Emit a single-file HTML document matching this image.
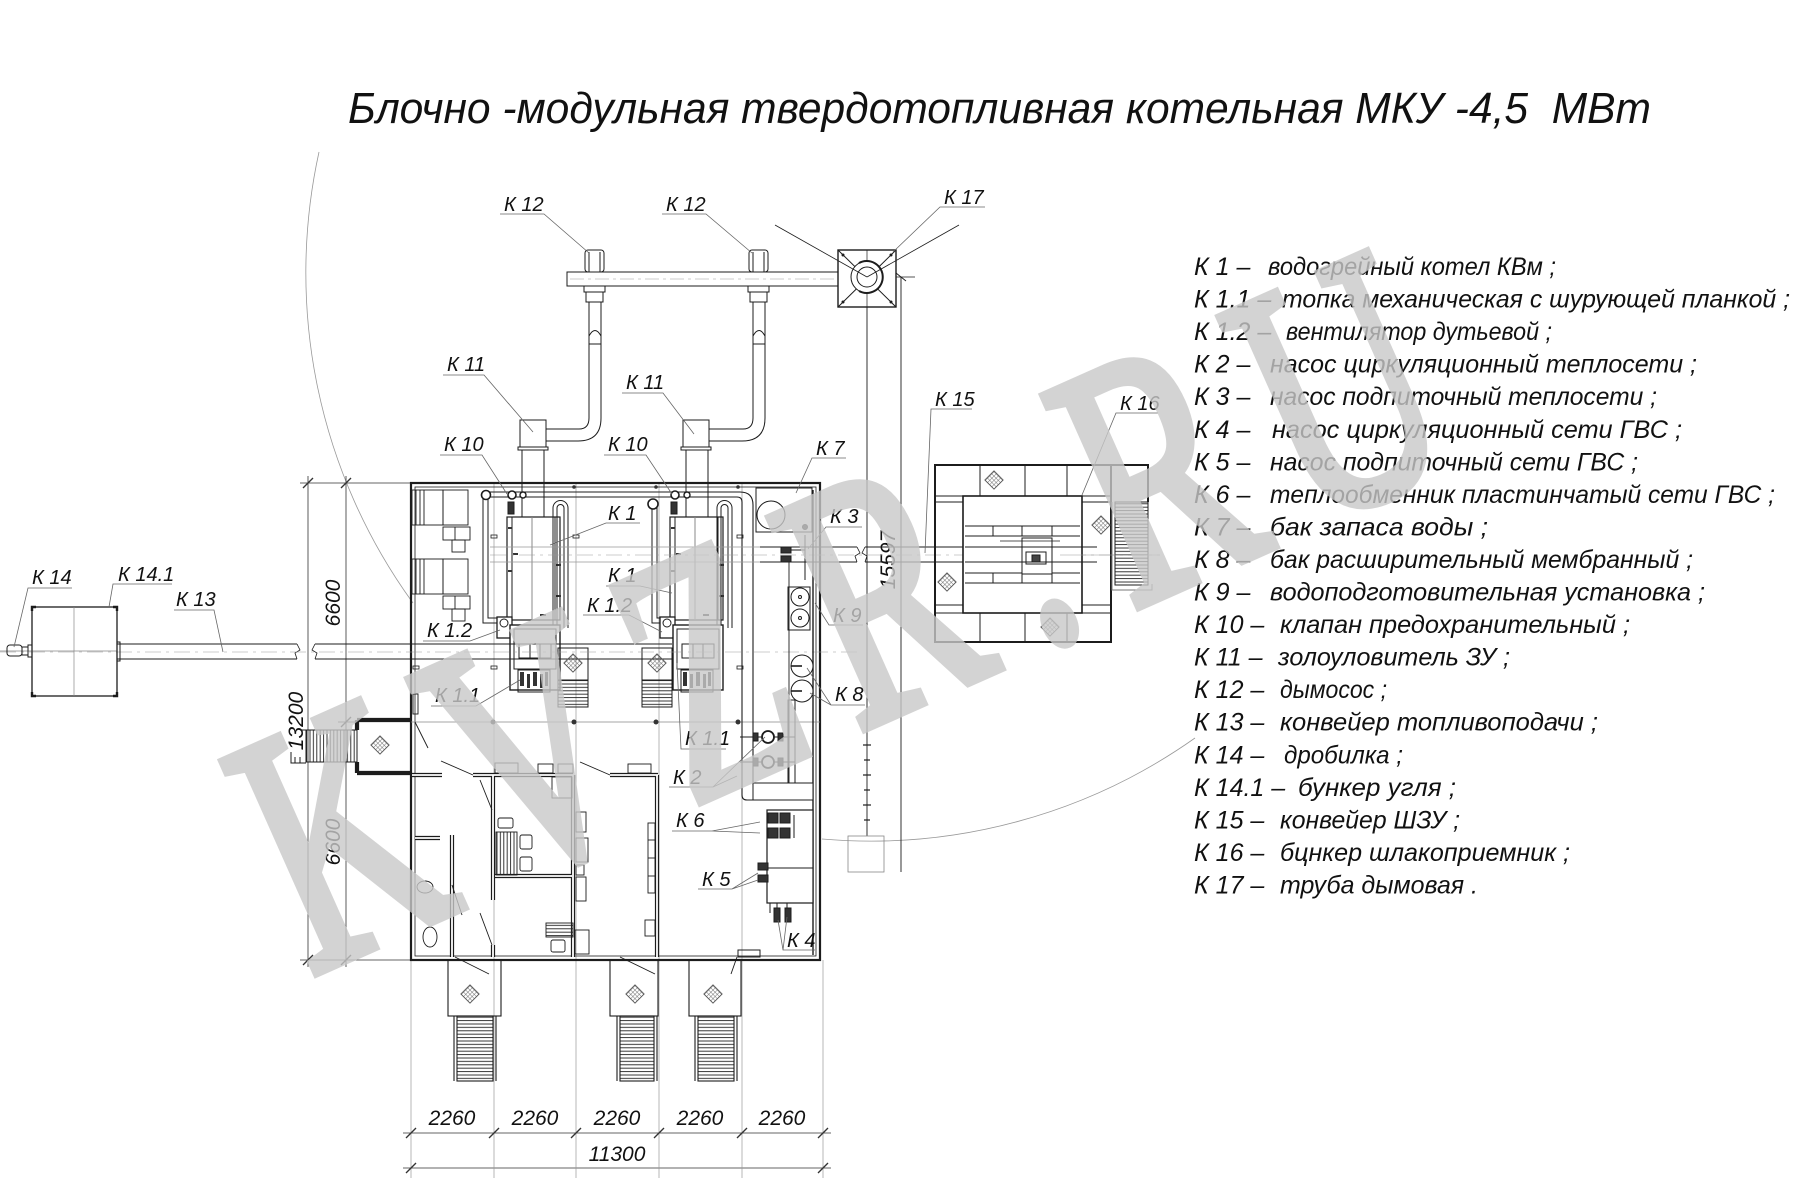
<!DOCTYPE html>
<html><head><meta charset="utf-8">
<style>
html,body{margin:0;padding:0;background:#fff;}
svg{display:block;}
text{font-family:"Liberation Sans","DejaVu Sans",sans-serif;font-style:italic;fill:#111;stroke:none;}
.lb{font-size:20px;}
.lg{font-size:25px;}
.dm{font-size:21px;}
.wm{font-family:"Liberation Serif","DejaVu Serif",serif;font-style:normal;font-size:350px;fill:#c9c9c9;stroke:#c9c9c9;stroke-width:11px;}
</style></head><body>
<svg width="1800" height="1200" viewBox="0 0 1800 1200" xmlns="http://www.w3.org/2000/svg">
<defs>
<pattern id="th" width="6" height="3.4" patternUnits="userSpaceOnUse"><line x1="0" y1="0.6" x2="6" y2="0.6" stroke="#222" stroke-width="0.9"/></pattern>
<pattern id="tv" width="3.4" height="6" patternUnits="userSpaceOnUse"><line x1="0.6" y1="0" x2="0.6" y2="6" stroke="#222" stroke-width="0.9"/></pattern>
<pattern id="hx" width="3" height="3" patternUnits="userSpaceOnUse"><line x1="0" y1="0" x2="0" y2="3" stroke="#555" stroke-width="0.8"/><line x1="0" y1="0" x2="3" y2="0" stroke="#555" stroke-width="0.8"/></pattern>
<g id="dia"><rect x="-6.5" y="-6.5" width="13" height="13" transform="rotate(45)" fill="url(#hx)" stroke="#555" stroke-width="0.8"/></g>
</defs>
<rect width="1800" height="1200" fill="#fff"/>

<!-- Title -->
<text x="348" y="123" font-size="44" textLength="1303" lengthAdjust="spacingAndGlyphs" style="white-space:pre">Блочно -модульная твердотопливная котельная МКУ -4,5  МВт</text>

<!-- big arc -->
<g fill="none" stroke="#999" stroke-width="0.8">
<path d="M319,152 A562,562 0 0 0 413,603"/>
<path d="M822,839 A562,562 0 0 0 1195,738"/>
</g>

<!-- ======= TOP FLUE SYSTEM ======= -->
<g fill="none" stroke="#1c1c1c" stroke-width="1">
<rect x="567" y="272" width="288" height="14" fill="#fff"/>
<line x1="570" y1="279" x2="852" y2="279" stroke="#999" stroke-width="0.6" stroke-dasharray="14 4 3 4"/>
<rect x="585" y="250" width="19" height="22" rx="3" fill="#fff"/>
<line x1="589" y1="252" x2="589" y2="272"/><line x1="600" y1="252" x2="600" y2="272"/>
<rect x="749" y="250" width="19" height="22" rx="3" fill="#fff"/>
<line x1="753" y1="252" x2="753" y2="272"/><line x1="764" y1="252" x2="764" y2="272"/>
<rect x="584" y="286" width="21" height="6"/><rect x="586" y="292" width="17" height="10"/>
<rect x="748" y="286" width="21" height="6"/><rect x="750" y="292" width="17" height="10"/>
<path d="M589,302 V418 Q589,429 579,429 H546"/>
<path d="M601,302 V418 Q601,441 578,441 H546"/>
<path d="M589,336 Q595,325 601,336"/>
<line x1="589" y1="344" x2="601" y2="344"/>
<path d="M753,302 V418 Q753,429 743,429 H709"/>
<path d="M765,302 V418 Q765,441 742,441 H709"/>
<path d="M753,336 Q759,325 765,336"/>
<line x1="753" y1="344" x2="765" y2="344"/>
<line x1="546" y1="429" x2="546" y2="441"/><line x1="709" y1="429" x2="709" y2="441"/>
<rect x="520" y="420" width="26" height="27" fill="#fff"/>
<rect x="518" y="447" width="30" height="3"/>
<line x1="522" y1="450" x2="522" y2="517"/><line x1="544" y1="450" x2="544" y2="517"/>
<rect x="683" y="420" width="26" height="27" fill="#fff"/>
<rect x="681" y="447" width="30" height="3"/>
<line x1="686" y1="450" x2="686" y2="517"/><line x1="708" y1="450" x2="708" y2="517"/>
<rect x="838" y="250" width="58" height="57" fill="#fff" stroke-width="1.4"/>
<line x1="838" y1="250" x2="896" y2="307"/><line x1="896" y1="250" x2="838" y2="307"/>
<line x1="867" y1="250" x2="867" y2="307" stroke-width="0.7"/>
<circle cx="867" cy="277" r="16" fill="#fff"/>
<circle cx="867" cy="277" r="10"/>
<path d="M859,263 A16,16 0 1 1 859,291" stroke-width="2"/>
<circle cx="843" cy="255" r="1" fill="#222"/><circle cx="891" cy="255" r="1" fill="#222"/><circle cx="843" cy="302" r="1" fill="#222"/><circle cx="891" cy="302" r="1" fill="#222"/>
<line x1="775" y1="225" x2="867" y2="277" stroke-width="0.8"/>
<line x1="867" y1="277" x2="959" y2="225" stroke-width="0.8"/>
<line x1="867" y1="307" x2="867" y2="836" stroke-width="0.9"/>
<line x1="901" y1="277" x2="901" y2="872" stroke-width="0.9"/>
<line x1="896" y1="277" x2="915" y2="277" stroke-width="0.7"/>
<line x1="896" y1="273" x2="906" y2="281" stroke-width="0.9"/>
<g stroke-width="1.2"><line x1="863" y1="745" x2="871" y2="745"/><line x1="864" y1="760" x2="870" y2="760"/><line x1="863" y1="775" x2="871" y2="775"/><line x1="864" y1="790" x2="870" y2="790"/><line x1="863" y1="805" x2="871" y2="805"/><line x1="864" y1="820" x2="870" y2="820"/></g>
<rect x="848" y="836" width="36" height="36" stroke="#888" stroke-width="0.8"/>
</g>
<text class="dm" transform="translate(895,560) rotate(-90)" text-anchor="middle">15597</text>

<!-- ======= DIMENSIONS ======= -->
<g fill="none" stroke="#333" stroke-width="0.8">
<line x1="346" y1="476" x2="346" y2="967"/>
<line x1="308" y1="476" x2="308" y2="967"/>
<line x1="300" y1="483" x2="411" y2="483"/>
<line x1="338" y1="722" x2="357" y2="722"/>
<line x1="300" y1="960" x2="411" y2="960"/>
<g stroke-width="1.3">
<line x1="341" y1="488" x2="351" y2="478"/><line x1="341" y1="727" x2="351" y2="717"/><line x1="341" y1="965" x2="351" y2="955"/>
<line x1="303" y1="488" x2="313" y2="478"/><line x1="303" y1="965" x2="313" y2="955"/>
</g>
<line x1="403" y1="1133" x2="831" y2="1133"/>
<line x1="403" y1="1168" x2="831" y2="1168"/>
<g stroke="#999" stroke-width="0.7">
<line x1="411" y1="960" x2="411" y2="1178"/>
<line x1="494" y1="483" x2="494" y2="1178"/>
<line x1="576" y1="483" x2="576" y2="1178"/>
<line x1="659" y1="483" x2="659" y2="1178"/>
<line x1="742" y1="483" x2="742" y2="1178"/>
<line x1="823" y1="960" x2="823" y2="1178"/>
</g>
<g stroke-width="1.3">
<line x1="406" y1="1138" x2="416" y2="1128"/><line x1="489" y1="1138" x2="499" y2="1128"/><line x1="571" y1="1138" x2="581" y2="1128"/><line x1="654" y1="1138" x2="664" y2="1128"/><line x1="737" y1="1138" x2="747" y2="1128"/><line x1="818" y1="1138" x2="828" y2="1128"/>
<line x1="406" y1="1173" x2="416" y2="1163"/><line x1="818" y1="1173" x2="828" y2="1163"/>
</g>
</g>
<text class="dm" transform="translate(340,603) rotate(-90)" text-anchor="middle">6600</text>
<text class="dm" transform="translate(340,842) rotate(-90)" text-anchor="middle">6600</text>
<text class="dm" transform="translate(303,721) rotate(-90)" text-anchor="middle">13200</text>
<text class="dm" x="452" y="1125" text-anchor="middle">2260</text>
<text class="dm" x="535" y="1125" text-anchor="middle">2260</text>
<text class="dm" x="617" y="1125" text-anchor="middle">2260</text>
<text class="dm" x="700" y="1125" text-anchor="middle">2260</text>
<text class="dm" x="782" y="1125" text-anchor="middle">2260</text>
<text class="dm" x="617" y="1161" text-anchor="middle">11300</text>

<!-- ======= BUILDING ======= -->
<g fill="none" stroke="#1c1c1c" stroke-width="1">
<rect x="411" y="483" width="409" height="477" stroke-width="2.2"/>
<rect x="415" y="487" width="401" height="469" stroke-width="0.8"/>
<line x1="411" y1="722" x2="820" y2="722" stroke="#888" stroke-width="0.7"/>
<g fill="#333" stroke="none">
<circle cx="493" cy="722" r="2.5"/><circle cx="574" cy="722" r="2.5"/><circle cx="656" cy="722" r="2.5"/><circle cx="738" cy="722" r="2.5"/>
<circle cx="574" cy="487" r="1.8"/><circle cx="656" cy="487" r="1.8"/><circle cx="738" cy="487" r="1.8"/>
</g>
<g stroke-width="0.8">
<rect x="491" y="535" width="6" height="3"/><rect x="573" y="535" width="6" height="3"/><rect x="737" y="535" width="6" height="3"/>
<rect x="491" y="666" width="6" height="3"/><rect x="737" y="666" width="6" height="3"/><rect x="413" y="666" width="6" height="3"/>
</g>
<g stroke-width="0.9">
<rect x="412" y="490" width="31" height="35"/><line x1="416" y1="490" x2="416" y2="525"/><line x1="420" y1="490" x2="420" y2="525"/><line x1="424" y1="490" x2="424" y2="525"/>
<rect x="443" y="490" width="25" height="35"/><rect x="443" y="527" width="27" height="13"/><line x1="455" y1="527" x2="455" y2="540"/><rect x="452" y="540" width="13" height="12"/>
<rect x="412" y="559" width="31" height="35"/><line x1="416" y1="559" x2="416" y2="594"/><line x1="420" y1="559" x2="420" y2="594"/><line x1="424" y1="559" x2="424" y2="594"/>
<rect x="443" y="559" width="25" height="35"/><rect x="443" y="596" width="27" height="13"/><line x1="455" y1="596" x2="455" y2="609"/><rect x="452" y="609" width="13" height="12"/>
</g>
<path d="M483,492 H740 Q753,492 753,505 V785" stroke-width="1.1"/>
<path d="M488,497 H737 Q742,497 742,502 V795 Q742,800 747,800 H767" stroke-width="1.1"/>
<path d="M483,492 V623 H507" /><path d="M488,497 V618 H507"/>
<path d="M652,500 V623 H670"/><path d="M657,505 V618 H670"/>
<circle cx="486" cy="495" r="4.5" fill="#fff" stroke-width="1.6"/>
<circle cx="512" cy="495" r="4" fill="#fff" stroke-width="1.6"/>
<circle cx="523" cy="495" r="3" fill="#fff" stroke-width="1.4"/>
<circle cx="653" cy="504" r="5" fill="#fff" stroke-width="1.6"/>
<circle cx="675" cy="495" r="4" fill="#fff" stroke-width="1.6"/>
<circle cx="687" cy="495" r="3" fill="#fff" stroke-width="1.4"/>
<rect x="508" y="502" width="6" height="12" fill="#333"/><rect x="671" y="502" width="6" height="12" fill="#333"/>
<rect x="507" y="517" width="53" height="103" fill="#fff" stroke-width="1.2"/>
<line x1="512" y1="517" x2="512" y2="620"/><line x1="555" y1="517" x2="555" y2="620"/><line x1="532" y1="517" x2="532" y2="620" stroke="#888"/>
<g fill="#333" stroke="none"><rect x="508" y="527" width="4" height="2"/><rect x="513" y="553" width="5" height="2"/><rect x="508" y="570" width="4" height="2"/><rect x="556" y="564" width="5" height="2"/><rect x="556" y="595" width="5" height="2"/><rect x="540" y="614" width="6" height="2"/></g>
<path d="M553,628 V508 A7.5,7.5 0 0 1 568,508 V628"/>
<path d="M557,628 V508 A3.5,3.5 0 0 1 564,508 V628"/>
<rect x="670" y="517" width="53" height="103" fill="#fff" stroke-width="1.2"/>
<line x1="675" y1="517" x2="675" y2="620"/><line x1="718" y1="517" x2="718" y2="620"/><line x1="695" y1="517" x2="695" y2="620" stroke="#888"/>
<g fill="#333" stroke="none"><rect x="671" y="527" width="4" height="2"/><rect x="676" y="553" width="5" height="2"/><rect x="671" y="570" width="4" height="2"/><rect x="719" y="564" width="5" height="2"/><rect x="719" y="595" width="5" height="2"/><rect x="703" y="614" width="6" height="2"/></g>
<path d="M717,628 V508 A7.5,7.5 0 0 1 732,508 V628"/>
<path d="M721,628 V508 A3.5,3.5 0 0 1 728,508 V628"/>
<rect x="497" y="617" width="15" height="21" fill="#fff" stroke-width="1.3"/><circle cx="504" cy="623" r="4"/>
<rect x="660" y="617" width="15" height="21" fill="#fff" stroke-width="1.3"/><circle cx="667" cy="623" r="4"/>
<rect x="510" y="625" width="50" height="65" fill="#fff" stroke-width="1.4"/><rect x="514" y="629" width="42" height="40"/>
<rect x="519" y="644" width="32" height="14"/><line x1="530" y1="644" x2="530" y2="658"/><line x1="540" y1="644" x2="540" y2="658"/>
<rect x="518" y="670" width="32" height="22"/>
<g fill="#333" stroke="none"><rect x="520" y="672" width="4" height="14"/><rect x="527" y="674" width="3" height="14"/><rect x="533" y="672" width="4" height="14"/><rect x="540" y="674" width="3" height="14"/><rect x="545" y="672" width="3" height="14"/></g>
<rect x="673" y="625" width="50" height="65" fill="#fff" stroke-width="1.4"/><rect x="677" y="629" width="42" height="40"/>
<rect x="682" y="644" width="32" height="14"/><line x1="693" y1="644" x2="693" y2="658"/><line x1="703" y1="644" x2="703" y2="658"/>
<rect x="681" y="670" width="32" height="22"/>
<g fill="#333" stroke="none"><rect x="683" y="672" width="4" height="14"/><rect x="690" y="674" width="3" height="14"/><rect x="696" y="672" width="4" height="14"/><rect x="703" y="674" width="3" height="14"/><rect x="708" y="672" width="3" height="14"/></g>
<rect x="558" y="648" width="30" height="32"/><rect x="558" y="680" width="30" height="27" fill="url(#th)"/>
<rect x="642" y="648" width="30" height="32"/><rect x="642" y="680" width="30" height="27" fill="url(#th)"/>
<line x1="117" y1="644" x2="297" y2="644"/><line x1="117" y1="659" x2="297" y2="659"/>
<path d="M297,644 L300,650 L295,653 L297,659" stroke-width="0.8"/>
<path d="M315,644 L312,650 L317,653 L315,659" stroke-width="0.8"/>
<line x1="315" y1="644" x2="672" y2="644" stroke-width="1.1"/><line x1="315" y1="659" x2="672" y2="659" stroke-width="1.1"/>
<line x1="0" y1="652" x2="860" y2="652" stroke="#999" stroke-width="0.6" stroke-dasharray="16 5 3 5"/>
<line x1="490" y1="547" x2="760" y2="547" stroke="#999" stroke-width="0.7"/>
<line x1="490" y1="562" x2="760" y2="562" stroke="#999" stroke-width="0.7"/>
<line x1="760" y1="547" x2="857" y2="547"/><line x1="760" y1="562" x2="857" y2="562"/>
<path d="M857,547 L860,553 L855,556 L857,562" stroke-width="0.8"/>
<path d="M865,547 L862,553 L867,556 L865,562" stroke-width="0.8"/>
<line x1="865" y1="547" x2="1097" y2="547"/><line x1="865" y1="562" x2="1097" y2="562"/>
<line x1="490" y1="555" x2="1160" y2="555" stroke="#999" stroke-width="0.6" stroke-dasharray="16 5 3 5"/>
<rect x="756" y="488" width="56" height="44" fill="#fff"/><circle cx="771" cy="515" r="14"/><circle cx="805" cy="527" r="2.5" fill="#333"/>
<line x1="813" y1="490" x2="813" y2="955" stroke-width="1.4"/>
<rect x="781" y="547" width="10" height="6" fill="#333"/><rect x="781" y="556" width="10" height="6" fill="#333"/><line x1="791" y1="550" x2="805" y2="550"/><line x1="805" y1="535" x2="805" y2="580"/>
<rect x="788" y="587" width="22" height="43" fill="#fff"/><circle cx="800" cy="597" r="9"/><circle cx="800" cy="597" r="1.5"/><circle cx="800" cy="618" r="9"/><circle cx="800" cy="618" r="1.5"/>
<line x1="789" y1="562" x2="789" y2="800" stroke-width="0.9"/>
<circle cx="802" cy="666" r="11" fill="#fff"/><line x1="791" y1="666" x2="802" y2="666" stroke-width="1.6"/>
<circle cx="802" cy="691" r="11" fill="#fff"/><line x1="791" y1="691" x2="802" y2="691" stroke-width="1.6"/>
<line x1="740" y1="737" x2="795" y2="737"/><line x1="740" y1="762" x2="795" y2="762"/>
<circle cx="768" cy="737" r="6" fill="#fff" stroke-width="1.8"/><circle cx="768" cy="762" r="6" fill="#fff" stroke-width="1.8"/>
<rect x="753" y="733" width="5" height="8" fill="#333"/><rect x="778" y="733" width="5" height="8" fill="#333"/>
<rect x="753" y="758" width="5" height="8" fill="#333"/><rect x="778" y="758" width="5" height="8" fill="#333"/>
<rect x="788" y="700" width="7" height="85"/>
<rect x="753" y="783" width="60" height="17" fill="#fff"/>
<rect x="767" y="810" width="46" height="93" fill="#fff" stroke-width="1.2"/>
<line x1="767" y1="868" x2="813" y2="868"/>
<rect x="768" y="813" width="10" height="10" fill="#333"/><rect x="780" y="813" width="10" height="10" fill="#333"/>
<rect x="768" y="828" width="10" height="10" fill="#333"/><rect x="780" y="828" width="10" height="10" fill="#333"/>
<line x1="794" y1="815" x2="794" y2="838"/>
<rect x="758" y="863" width="10" height="7" fill="#333"/><rect x="758" y="875" width="10" height="7" fill="#333"/>
<path d="M770,903 V913 M777,903 V910 M787,903 V910"/>
<rect x="774" y="908" width="6" height="14" fill="#333"/><rect x="785" y="908" width="6" height="14" fill="#333"/>
<rect x="738" y="950" width="22" height="7"/>
</g>

<!-- lower rooms walls -->
<g fill="none" stroke="#1c1c1c" stroke-width="4.2">
<path d="M412,775 H442 M473,775 H573 M610,775 H658 M493,775 V900 M493,945 V957 M573,775 V957 M657,775 V957 M495,876 H572 M452,835 V957 M415,838 H440 M357,720 H411 M357,773 H411 M357,720 V730 M357,762 V773"/>
</g>
<g fill="none" stroke="#fff" stroke-width="1.8">
<path d="M412,775 H442 M473,775 H573 M610,775 H658 M493,775 V900 M493,945 V957 M573,775 V957 M657,775 V957 M495,876 H572 M452,835 V957 M415,838 H440"/>
</g>
<g fill="none" stroke="#1c1c1c" stroke-width="0.9">
<line x1="441" y1="761" x2="473" y2="775"/><line x1="580" y1="762" x2="610" y2="775"/>
<line x1="480" y1="780" x2="492" y2="810"/><line x1="480" y1="913" x2="492" y2="945"/>
<line x1="455" y1="957" x2="489" y2="974"/><line x1="620" y1="957" x2="655" y2="974"/><line x1="737" y1="957" x2="731" y2="974"/>
<line x1="452" y1="885" x2="462" y2="915"/><line x1="415" y1="722" x2="428" y2="748"/>
<rect x="496" y="832" width="21" height="43" fill="url(#tv)"/>
<rect x="498" y="818" width="15" height="10" rx="2"/><rect x="520" y="835" width="12" height="14" rx="2"/><rect x="520" y="857" width="12" height="14" rx="2"/>
<rect x="552" y="777" width="20" height="21"/>
<rect x="576" y="812" width="10" height="20"/><rect x="576" y="838" width="12" height="24"/><rect x="576" y="865" width="8" height="10"/><rect x="576" y="877" width="10" height="24"/>
<rect x="648" y="823" width="7" height="70"/><line x1="648" y1="840" x2="655" y2="840"/><line x1="648" y1="858" x2="655" y2="858"/><line x1="648" y1="876" x2="655" y2="876"/>
<rect x="645" y="920" width="10" height="16"/>
<rect x="546" y="923" width="27" height="14" fill="url(#th)"/><rect x="551" y="940" width="14" height="12" rx="2"/><rect x="575" y="930" width="14" height="24"/>
<ellipse cx="430" cy="937" rx="7" ry="10"/><ellipse cx="425" cy="887" rx="8" ry="6"/>
<rect x="495" y="763" width="23" height="10"/><rect x="538" y="764" width="15" height="9"/><rect x="558" y="764" width="15" height="9"/><rect x="628" y="764" width="23" height="9"/>
<rect x="413" y="694" width="5" height="20"/>
</g>

<!-- left entrance -->
<g fill="none" stroke="#1c1c1c" stroke-width="1">
<rect x="306" y="730" width="51" height="32" fill="url(#tv)"/>
<path d="M291,752 V763 H306 M295,757 V763 M300,757 V763"/>
<line x1="300" y1="730" x2="357" y2="730"/>
</g>
<use href="#dia" x="380" y="745"/>

<!-- bottom stairs -->
<g fill="none" stroke="#1c1c1c" stroke-width="1.1">
<rect x="448" y="960" width="53" height="56"/><rect x="457" y="1016" width="36" height="65" fill="url(#th)"/><line x1="454" y1="1016" x2="454" y2="1081"/><line x1="496" y1="1016" x2="496" y2="1081"/>
<rect x="610" y="960" width="48" height="56"/><rect x="620" y="1016" width="34" height="65" fill="url(#th)"/><line x1="617" y1="1016" x2="617" y2="1081"/><line x1="657" y1="1016" x2="657" y2="1081"/>
<rect x="689" y="960" width="52" height="56"/><rect x="698" y="1016" width="36" height="65" fill="url(#th)"/><line x1="695" y1="1016" x2="695" y2="1081"/><line x1="737" y1="1016" x2="737" y2="1081"/>
</g>
<use href="#dia" x="470" y="994"/><use href="#dia" x="635" y="994"/><use href="#dia" x="713" y="994"/>
<use href="#dia" x="573" y="663"/><use href="#dia" x="657" y="663"/>

<!-- ======= K15/K16 block ======= -->
<g fill="none" stroke="#1c1c1c" stroke-width="1">
<rect x="935" y="465" width="176" height="177" stroke-width="2"/>
<path d="M1111,465 H1148 V502" stroke-width="2"/>
<rect x="963" y="496" width="119" height="117" stroke-width="1.6" fill="#fff"/>
<path d="M935,496 H963 M1082,496 H1111 M935,613 H963 M1082,613 H1111"/>
<path d="M980,465 V496 M1025,465 V496 M1067,465 V496 M980,613 V642 M1025,613 V642 M1067,613 V642"/>
<path d="M935,502 H963 M935,605 H963 M1082,502 H1111 M1082,605 H1111"/>
<path d="M965,526 H1080 M965,536 H1080 M965,573 H1080 M965,583 H1080"/>
<path d="M993,526 V536 M1022,526 V536 M1052,526 V536 M993,573 V583 M1022,573 V583 M1052,573 V583"/>
<rect x="1022" y="538" width="30" height="36" fill="#fff"/><rect x="1026" y="552" width="20" height="12" fill="#fff"/><rect x="1032" y="555" width="8" height="7" fill="#444"/>
<line x1="1000" y1="541" x2="1060" y2="541" stroke-width="0.7"/>
<line x1="965" y1="547" x2="1097" y2="547"/><line x1="965" y1="562" x2="1097" y2="562"/>
<rect x="1115" y="502" width="33" height="83" fill="url(#th)"/>
<path d="M1112,502 V590 H1152 V584" stroke="#777"/>
<line x1="1060" y1="555" x2="1160" y2="555" stroke="#999" stroke-width="0.6"/>
</g>
<use href="#dia" x="994" y="480"/><use href="#dia" x="1101" y="525"/><use href="#dia" x="947" y="582"/><use href="#dia" x="1050" y="627"/>

<!-- ======= K14 ======= -->
<g fill="none" stroke="#1c1c1c" stroke-width="1">
<rect x="32" y="607" width="85" height="89" stroke-width="1.3"/>
<line x1="74" y1="607" x2="74" y2="696" stroke="#888" stroke-width="0.7"/>
<line x1="0" y1="651" x2="117" y2="651" stroke="#888" stroke-width="0.7"/>
<rect x="7" y="645" width="15" height="11" rx="3"/><rect x="22" y="647" width="6" height="8"/><rect x="28" y="645" width="4" height="12"/>
<rect x="117" y="642" width="3" height="19"/>
<path d="M32,611 V607 H36 M113,607 H117 V611 M32,692 V696 H36 M113,696 H117 V692" stroke-width="2.4"/>
</g>

<!-- ======= LABELS ======= -->
<g fill="none" stroke="#666" stroke-width="0.8">
<path d="M500,214 H544 L589,253"/>
<path d="M662,214 H706 L752,253"/>
<path d="M985,207 H940 L893,252"/>
<path d="M443,375 H484 L533,432"/>
<path d="M622,393 H663 L694,434"/>
<path d="M440,455 H482 L507,494"/>
<path d="M604,455 H646 L672,494"/>
<path d="M846,458 H812 L796,493"/>
<path d="M640,523 H606 L550,545"/>
<path d="M606,586 H640 L672,593"/>
<path d="M423,641 H470 L500,630"/>
<path d="M583,615 H629 L662,632"/>
<path d="M431,706 H476 L520,680"/>
<path d="M726,749 H681 L677,663"/>
<path d="M862,527 H826 L808,549"/>
<path d="M863,625 H829 L815,603"/>
<path d="M865,705 H831 L807,668 M831,705 L810,693"/>
<path d="M669,787 H713 L765,737 M713,787 L737,776"/>
<path d="M672,831 H712 L760,822 M712,831 L760,833"/>
<path d="M698,889 H732 L758,873 M732,889 L758,880"/>
<path d="M815,950 H783 L778,920 M783,950 L787,917"/>
<path d="M972,409 H931 L925,553"/>
<path d="M1158,413 H1116 L1082,495"/>
<path d="M72,588 H28 L14,647"/>
<path d="M172,584 H113 L109,607"/>
<path d="M174,610 H214 L223,652"/>
</g>
<g>
<text class="lb" x="504" y="211">К 12</text>
<text class="lb" x="666" y="211">К 12</text>
<text class="lb" x="944" y="204">К 17</text>
<text class="lb" x="447" y="371">К 11</text>
<text class="lb" x="626" y="389">К 11</text>
<text class="lb" x="444" y="451">К 10</text>
<text class="lb" x="608" y="451">К 10</text>
<text class="lb" x="816" y="455">К 7</text>
<text class="lb" x="608" y="520">К 1</text>
<text class="lb" x="608" y="582">К 1</text>
<text class="lb" x="427" y="637">К 1.2</text>
<text class="lb" x="587" y="612">К 1.2</text>
<text class="lb" x="435" y="702">К 1.1</text>
<text class="lb" x="685" y="745">К 1.1</text>
<text class="lb" x="830" y="523">К 3</text>
<text class="lb" x="833" y="622">К 9</text>
<text class="lb" x="835" y="701">К 8</text>
<text class="lb" x="673" y="784">К 2</text>
<text class="lb" x="676" y="827">К 6</text>
<text class="lb" x="702" y="886">К 5</text>
<text class="lb" x="787" y="947">К 4</text>
<text class="lb" x="935" y="406">К 15</text>
<text class="lb" x="1120" y="410">К 16</text>
<text class="lb" x="32" y="584">К 14</text>
<text class="lb" x="118" y="581">К 14.1</text>
<text class="lb" x="176" y="606">К 13</text>
</g>

<!-- ======= LEGEND ======= -->
<g>
<text class="lg" x="1194" y="275">К 1 –</text><text class="lg" x="1268" y="275" textLength="288" lengthAdjust="spacingAndGlyphs">водогрейный котел КВм ;</text>
<text class="lg" x="1194" y="307.5">К 1.1 –</text><text class="lg" x="1282" y="307.5" textLength="508" lengthAdjust="spacingAndGlyphs">топка механическая с шурующей планкой ;</text>
<text class="lg" x="1194" y="340">К 1.2 –</text><text class="lg" x="1286" y="340" textLength="266" lengthAdjust="spacingAndGlyphs">вентилятор дутьевой ;</text>
<text class="lg" x="1194" y="372.7">К 2 –</text><text class="lg" x="1270" y="372.7" textLength="427" lengthAdjust="spacingAndGlyphs">насос циркуляционный теплосети ;</text>
<text class="lg" x="1194" y="405.2">К 3 –</text><text class="lg" x="1270" y="405.2" textLength="387" lengthAdjust="spacingAndGlyphs">насос подпиточный теплосети ;</text>
<text class="lg" x="1194" y="437.8">К 4 –</text><text class="lg" x="1272" y="437.8" textLength="410" lengthAdjust="spacingAndGlyphs">насос циркуляционный сети ГВС ;</text>
<text class="lg" x="1194" y="470.3">К 5 –</text><text class="lg" x="1270" y="470.3" textLength="368" lengthAdjust="spacingAndGlyphs">насос подпиточный сети ГВС ;</text>
<text class="lg" x="1194" y="502.9">К 6 –</text><text class="lg" x="1270" y="502.9" textLength="505" lengthAdjust="spacingAndGlyphs">теплообменник пластинчатый сети ГВС ;</text>
<text class="lg" x="1194" y="535.4">К 7 –</text><text class="lg" x="1270" y="535.4" textLength="218" lengthAdjust="spacingAndGlyphs">бак запаса воды ;</text>
<text class="lg" x="1194" y="568">К 8 –</text><text class="lg" x="1270" y="568" textLength="423" lengthAdjust="spacingAndGlyphs">бак расширительный мембранный ;</text>
<text class="lg" x="1194" y="600.5">К 9 –</text><text class="lg" x="1270" y="600.5" textLength="435" lengthAdjust="spacingAndGlyphs">водоподготовительная установка ;</text>
<text class="lg" x="1194" y="633">К 10 –</text><text class="lg" x="1280" y="633" textLength="350" lengthAdjust="spacingAndGlyphs">клапан предохранительный ;</text>
<text class="lg" x="1194" y="665.6">К 11 –</text><text class="lg" x="1278" y="665.6" textLength="232" lengthAdjust="spacingAndGlyphs">золоуловитель ЗУ ;</text>
<text class="lg" x="1194" y="698">К 12 –</text><text class="lg" x="1280" y="698" textLength="107" lengthAdjust="spacingAndGlyphs">дымосос ;</text>
<text class="lg" x="1194" y="730.7">К 13 –</text><text class="lg" x="1280" y="730.7" textLength="318" lengthAdjust="spacingAndGlyphs">конвейер топливоподачи ;</text>
<text class="lg" x="1194" y="763.3">К 14 –</text><text class="lg" x="1284" y="763.3" textLength="119" lengthAdjust="spacingAndGlyphs">дробилка ;</text>
<text class="lg" x="1194" y="795.8">К 14.1 –</text><text class="lg" x="1298" y="795.8" textLength="158" lengthAdjust="spacingAndGlyphs">бункер угля ;</text>
<text class="lg" x="1194" y="828.4">К 15 –</text><text class="lg" x="1280" y="828.4" textLength="180" lengthAdjust="spacingAndGlyphs">конвейер ШЗУ ;</text>
<text class="lg" x="1194" y="861">К 16 –</text><text class="lg" x="1280" y="861" textLength="290" lengthAdjust="spacingAndGlyphs">бцнкер шлакоприемник ;</text>
<text class="lg" x="1194" y="893.5">К 17 –</text><text class="lg" x="1280" y="893.5" textLength="198" lengthAdjust="spacingAndGlyphs">труба дымовая .</text>
</g>

<!-- ======= WATERMARK ======= -->
<g opacity="0.8">
<g transform="translate(388,940) rotate(-24) scale(0.68,1)"><text class="wm" x="0" y="0" text-anchor="middle">K</text></g>
<g transform="translate(578,856) rotate(-24) scale(0.68,1)"><text class="wm" x="0" y="0" text-anchor="middle">V</text></g>
<g transform="translate(756,776) rotate(-24) scale(0.68,1)"><text class="wm" x="0" y="0" text-anchor="middle">Z</text></g>
<g transform="translate(929,699) rotate(-24) scale(0.68,1)"><text class="wm" x="0" y="0" text-anchor="middle">R</text></g>
<g transform="translate(1066,638) rotate(-24) scale(0.68,1)"><text class="wm" x="0" y="0" text-anchor="middle">.</text></g>
<g transform="translate(1203,577) rotate(-24) scale(0.68,1)"><text class="wm" x="0" y="0" text-anchor="middle">R</text></g>
<g transform="translate(1387,495) rotate(-24) scale(0.68,1)"><text class="wm" x="0" y="0" text-anchor="middle">U</text></g>
</g>
</svg>
</body></html>
